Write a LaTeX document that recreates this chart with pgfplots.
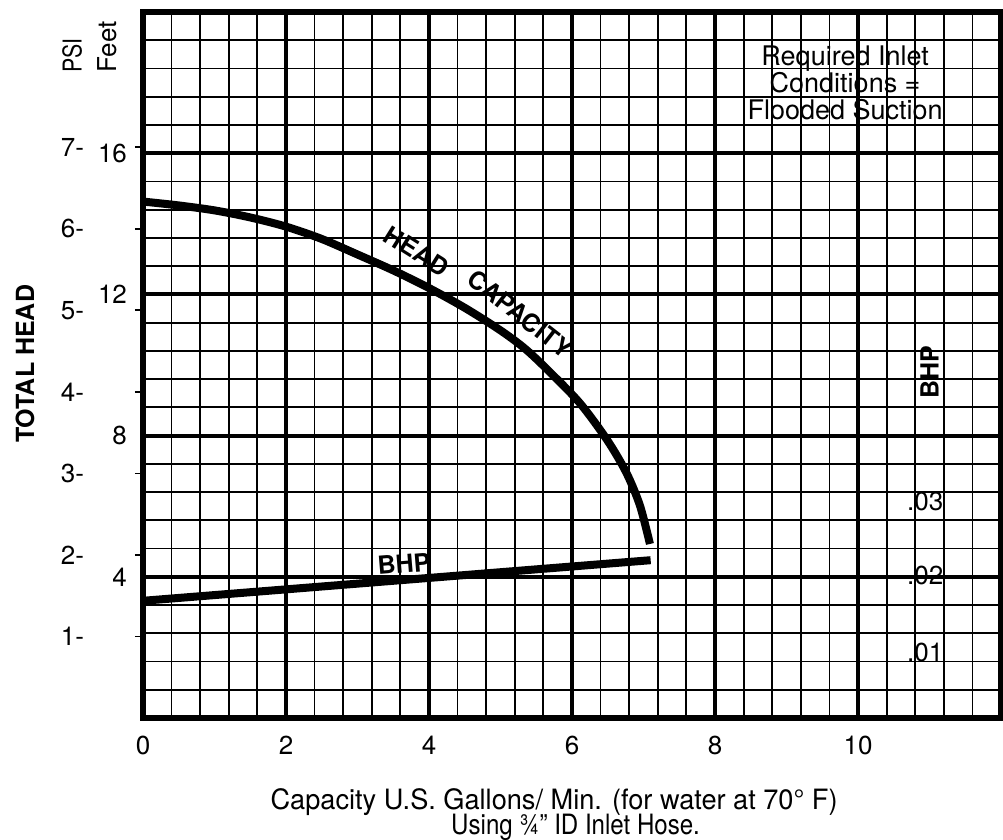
\documentclass[border=0pt]{standalone}
\usepackage{pgfplots}
\pgfplotsset{compat=1.18}
\usepackage{fontspec}
\setmainfont{TeX Gyre Heros}

\begin{document}
\begin{tikzpicture}
\begin{axis}[
  scale only axis, width=429pt, height=353pt,
  xmin=0, xmax=12, ymin=0, ymax=20,
  xtick={0,2,...,12}, xticklabels={0,2,4,6,8,10,},
  ytick={0,4,...,20}, yticklabels={,4,8,12,16,},
  minor x tick num=4, minor y tick num=4,
  grid=both,
  major grid style={line width=2pt, black},
  minor grid style={line width=0.9pt, black},
  axis line style={line width=3pt, black},
  major tick length=0pt, minor tick length=0pt,
  tick label style={font=\fontsize{13}{15}\selectfont},
  xticklabel style={yshift=-5.5pt},
  yticklabel style={xshift=-4.5pt},
  extra y ticks={2.31,4.62,6.93,9.24,11.55,13.86,16.17},
  extra y tick labels={1-,2-,3-,4-,5-,6-,7-},
  extra y tick style={grid=none, major tick length=4pt, tick align=outside,
     tick style={line width=0.8pt, black}, yticklabel style={xshift=-17.5pt}},
  clip=false,
  /pgf/number format/assume math mode=true,
]
\addplot[line width=4pt, line cap=butt, smooth, black] coordinates {
 (0,14.63) (0.5,14.52) (1.0,14.38) (1.5,14.18) (2.0,13.92) (2.5,13.57)
 (3.0,13.13) (3.5,12.68) (4.0,12.18) (4.5,11.62) (5.0,10.98) (5.35,10.45)
 (5.69,9.8) (6.11,8.92) (6.49,7.88) (6.76,6.95) (6.95,6.02) (7.09,4.93)
};
\addplot[line width=4pt, line cap=butt, black] coordinates {(0,3.32) (7.1,4.47)};

\node[rotate=-32, font=\bfseries\fontsize{12.5}{12.5}\selectfont] at (axis cs:3.83,13.22) {HEAD};
\node[rotate=-38, font=\bfseries\fontsize{12.5}{12.5}\selectfont] at (axis cs:5.28,11.45) {CAPACITY};
\node[rotate=4.7, font=\bfseries\fontsize{12.5}{12.5}\selectfont] at (axis cs:3.65,4.37) {BHP};
\node[font=\fontsize{13.5}{13.5}\selectfont, align=center] at (axis cs:9.82,18.0) {Required Inlet\\Conditions =\\Flooded Suction};
\node[rotate=90, font=\bfseries\fontsize{12.5}{12.5}\selectfont] at (axis cs:11.0,9.8) {BHP};
\node[font=\fontsize{13}{13}\selectfont] at (axis cs:10.94,6.14) {.03};
\node[font=\fontsize{13}{13}\selectfont] at (axis cs:10.94,4.03) {.02};
\node[font=\fontsize{13}{13}\selectfont] at (axis cs:10.94,1.86) {.01};
\node[rotate=90, font=\bfseries\fontsize{12.5}{12.5}\selectfont] at (axis cs:-1.65,10.03) {TOTAL HEAD};
\node[rotate=90, anchor=west, font=\fontsize{13}{13}\selectfont] at (axis cs:-0.99,18.08) {\scalebox{0.82}[1]{PSI}};
\node[rotate=90, anchor=west, font=\fontsize{13}{13}\selectfont] at (axis cs:-0.50,18.08) {Feet};
\node[anchor=base, font=\fontsize{14}{14}\selectfont] at ([yshift=-46pt]axis cs:5.75,0) {\scalebox{0.97}[1]{Capacity U.S. Gallons/ Min. (for water at 70° F)}};
\node[anchor=base, font=\fontsize{14}{14}\selectfont] at ([yshift=-58.5pt]axis cs:6.05,0) {\scalebox{0.86}[1]{Using ¾” ID Inlet Hose.}};
\end{axis}
\pgfresetboundingbox
\path ([xshift=-71.5pt,yshift=-61pt]current axis.south west) rectangle ([xshift=1pt,yshift=6pt]current axis.north east);
\end{tikzpicture}
\end{document}
